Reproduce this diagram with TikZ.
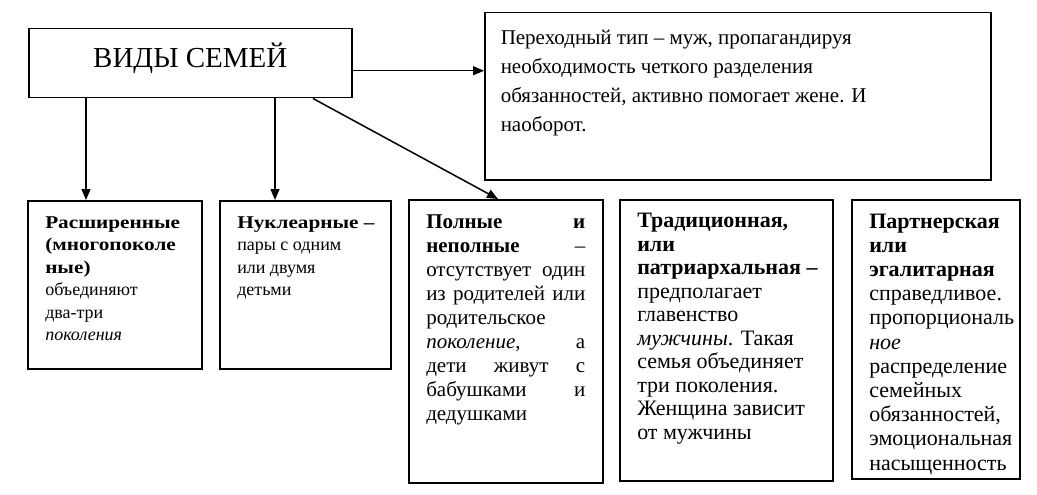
\documentclass[tikz,border=0pt]{standalone}
\usepackage{fontspec}
\setmainfont{Liberation Serif}
\usetikzlibrary{arrows.meta}
\newcommand{\vidtext}[4][\raggedright]{\parbox[t][#3][t]{#2}{#1\strut #4}}
\newcommand{\vbold}[1]{{\bfseries\addfontfeature{FakeStretch=1.18}#1}}

\begin{document}
\begin{tikzpicture}
[x=1pt,y=-1pt,
vid/.style={rectangle,draw=black,line width=1.5pt,anchor=north west,inner xsep=17.5pt,inner ysep=11.5pt,font=\fontsize{18}{22.5}\selectfont},
perx/.style={vid,inner xsep=16pt,inner ysep=11pt,font=\fontsize{21}{29}\selectfont},
arr/.style={-{Triangle[length=11pt,width=9pt]},draw=black,line width=1.5pt}]

\useasboundingbox (0,0) rectangle (1037,495);

\node at (28,28)   [vid,inner ysep=14pt,font=\fontsize{29}{34}\selectfont] (vidy) {\vidtext[\centering]{288pt}{41pt}{ВИДЫ СЕМЕЙ}};
\node at (484,12)  [perx] (perex) {\vidtext{474pt}{145pt}{Переходный тип – муж, пропагандируя\\необходимость четкого разделения\\обязанностей, активно помогает жене. И\\наоборот.}};

\node at (27,200)  [vid] (rassh) {\vidtext{139pt}{145pt}{\vbold{Расширенные\\(многопоколе\\ные)}\\объединяют\\два-три\\\textit{поколения}}};
\node at (219,200) [vid] (nukl)  {\vidtext{136pt}{145pt}{\vbold{\mbox{Нуклеарные –}}\\пары с одним\\или двумя\\детьми}};
\node at (408,199) [vid,font=\fontsize{21}{24}\selectfont] (poln)  {\vidtext{159pt}{260pt}{\textbf{Полные}\hfill\textbf{и}\\\textbf{неполные}\hfill –\\отсутствует\hfill один\\из\hfill родителей\hfill или\\родительское\\\textit{поколение},\hfill а\\дети\hfill живут\hfill с\\бабушками\hfill и\\дедушками}};
\node at (619,199) [vid,font=\fontsize{22}{23.5}\selectfont] (trad)  {\vidtext{178pt}{258pt}{\textbf{Традиционная,\\или\\\mbox{патриархальная –}}\\предполагает\\главенство\\\textit{мужчины}. Такая\\семья объединяет\\три поколения.\\Женщина зависит\\от мужчины}};
\node at (851,199) [vid,font=\fontsize{22}{24.2}\selectfont] (partn) {\vidtext{133pt}{256pt}{\textbf{Партнерская\\или\\эгалитарная}\\справедливое.\\пропорциональ\\\textit{ное}\\распределение\\семейных\\обязанностей,\\эмоциональная\\насыщенность}};

\draw [arr] ([yshift=-7.5pt]vidy.east) to ([yshift=-7.5pt]vidy.east -| perex.west);
\draw [arr] ([xshift=58pt]vidy.south west) to ([xshift=58pt]vidy.south west |- rassh.north);
\draw [arr] ([xshift=247pt]vidy.south west) to ([xshift=247pt]vidy.south west |- nukl.north);
\draw [arr] ([xshift=285pt]vidy.south west) to ([xshift=90pt]poln.north west);
\end{tikzpicture}
\end{document}
